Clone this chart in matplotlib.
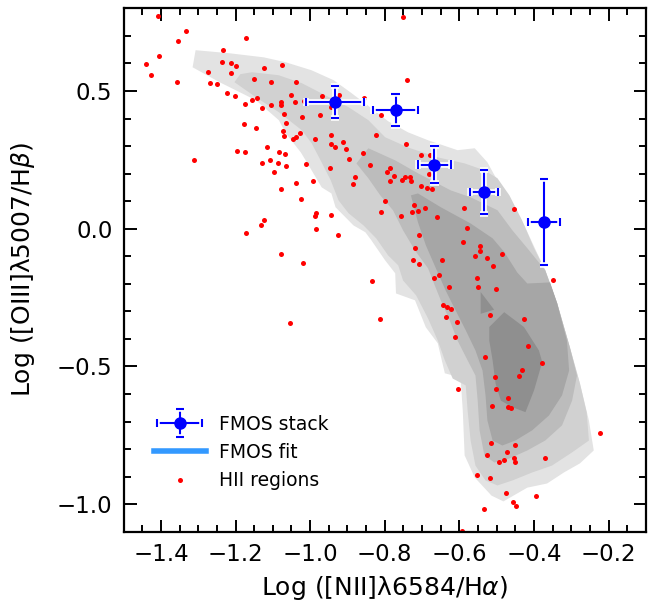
import matplotlib.pyplot as plt
import matplotlib.patheffects as pe
from matplotlib.container import ErrorbarContainer
from matplotlib.legend_handler import HandlerErrorbar

# FMOS stacked points
stack_x = [-0.933, -0.771, -0.667, -0.534, -0.374]
stack_y = [0.460, 0.430, 0.233, 0.133, 0.024]
stack_xerr = [0.078, 0.060, 0.045, 0.037, 0.043]
stack_yerr = [0.059, 0.059, 0.066, 0.080, 0.157]

# local HII regions
hii_x = [-1.408, -1.332, -1.355, -1.172, -1.405, -1.439, -1.427, -1.356, -1.234, -1.236,
         -1.213, -1.199, -1.273, -1.212, -1.123, -1.076, -1.150, -1.104, -1.037, -1.268,
         -1.249, -1.223, -1.201, -1.142, -1.155, -1.175, -1.051, -1.079, -1.077, -1.040,
         -1.106, -1.128, -0.967, -1.017, -0.945, -0.924, -0.856, -1.071, -1.023, -0.973,
         -1.064, -1.177, -1.146, -1.072, -1.070, -1.026, -1.039, -1.045, -0.988, -0.945,
         -0.945, -0.933, -0.912, -0.905, -0.823, -0.811, -0.859, -0.897, -0.840, -0.946,
         -1.011, -1.116, -1.083, -1.068, -1.197, -1.174, -1.311, -1.130, -1.108, -1.086,
         -1.066, -1.098, -1.038, -0.992, -0.879, -0.886, -1.078, -1.024, -0.793, -0.751,
         -0.740, -0.742, -0.704, -0.680, -0.681, -0.702, -0.687, -0.673, -0.786, -0.774,
         -0.745, -0.732, -0.729, -0.754, -0.786, -0.587, -0.454, -0.580, -0.661, -0.691,
         -0.723, -0.712, -0.726, -0.757, -0.708, -0.718, -0.590, -0.544,
         -0.799, -0.809, -0.984, -0.987, -0.943, -0.984, -0.926, -1.123, -1.132, -1.172,
         -1.078, -1.018, -0.833, -0.814, -1.054,
         -0.485, -0.546, -0.559, -0.525, -0.646, -0.725, -0.708, -0.510, -0.654, -0.669,
         -0.554, -0.349, -0.550, -0.502, -0.629, -0.643, -0.634, -0.623, -0.637, -0.518,
         -0.428, -0.607, -0.612, -0.415, -0.531, -0.379, -0.432, -0.440, -0.504, -0.501,
         -0.605, -0.471, -0.512, -0.469, -0.461, -0.223, -0.515, -0.452, -0.525, -0.472,
         -0.481, -0.454, -0.450, -0.494, -0.370, -0.552, -0.518, -0.476, -0.394, -0.456,
         -0.448, -0.535, -0.594, -0.491]
hii_y = [0.771, 0.718, 0.683, 0.693, 0.626, 0.598, 0.558, 0.534, 0.648, 0.604,
         0.603, 0.591, 0.569, 0.564, 0.582, 0.593, 0.543, 0.534, 0.532, 0.529,
         0.525, 0.492, 0.483, 0.475, 0.466, 0.453, 0.484, 0.459, 0.449, 0.461,
         0.448, 0.438, 0.482, 0.463, 0.440, 0.484, 0.476, 0.415, 0.407, 0.413,
         0.384, 0.380, 0.366, 0.355, 0.338, 0.346, 0.334, 0.327, 0.326, 0.340,
         0.306, 0.297, 0.316, 0.289, 0.340, 0.413, 0.273, 0.253, 0.233, 0.219,
         0.234, 0.297, 0.280, 0.270, 0.282, 0.278, 0.249, 0.240, 0.249, 0.237,
         0.226, 0.205, 0.166, 0.173, 0.189, 0.162, 0.145, 0.109, 0.206, 0.768,
         0.541, 0.307, 0.269, 0.269, 0.197, 0.156, 0.149, 0.145, 0.222, 0.193,
         0.188, 0.189, 0.172, 0.175, 0.173, 0.074, 0.071, 0.002, 0.041, 0.075,
         0.087, 0.063, 0.062, 0.045, -0.022, -0.070, -0.047, -0.062,
         0.102, 0.062, 0.058, 0.047, 0.048, -0.002, -0.022, 0.033, 0.012, -0.014,
         -0.092, -0.123, -0.190, -0.327, -0.341,
         -0.091, -0.082, -0.099, -0.105, -0.112, -0.112, -0.129, -0.137, -0.167, -0.179,
         -0.178, -0.185, -0.213, -0.220, -0.211, -0.277, -0.283, -0.293, -0.319, -0.314,
         -0.327, -0.340, -0.392, -0.425, -0.465, -0.487, -0.513, -0.533, -0.537, -0.581,
         -0.581, -0.614, -0.645, -0.646, -0.651, -0.741, -0.779, -0.784, -0.820, -0.812,
         -0.838, -0.834, -0.848, -0.848, -0.832, -0.893, -0.904, -0.959, -0.971, -0.991,
         -1.006, -1.018, -1.099, -1.103]

# SDSS density contours, outermost to innermost
c1_x = [-1.307, -1.217, -1.124, -1.065, -0.996, -0.937, -0.892, -0.850, -0.791, -0.738,
        -0.684, -0.605, -0.559, -0.525, -0.506, -0.477, -0.453, -0.426, -0.405, -0.370,
        -0.338, -0.304, -0.277, -0.253, -0.240, -0.277, -0.320, -0.365, -0.418, -0.482,
        -0.514, -0.559, -0.586, -0.591, -0.597, -0.639, -0.658, -0.690, -0.719, -0.770,
        -0.772, -0.799, -0.836, -0.852, -0.884, -0.905, -0.932, -0.943, -0.969, -1.004,
        -1.025, -1.065, -1.084, -1.145, -1.243, -1.315]
c1_y = [0.648, 0.637, 0.622, 0.604, 0.575, 0.539, 0.495, 0.452, 0.390, 0.350,
        0.321, 0.285, 0.292, 0.241, 0.194, 0.132, 0.078, 0.012, -0.050, -0.151,
        -0.271, -0.431, -0.562, -0.696, -0.805, -0.852, -0.885, -0.925, -0.940, -0.990,
        -0.969, -0.903, -0.823, -0.660, -0.540, -0.525, -0.416, -0.358, -0.260, -0.235,
        -0.162, -0.115, -0.042, -0.013, 0.012, 0.041, 0.078, 0.128, 0.150, 0.230,
        0.277, 0.346, 0.394, 0.466, 0.532, 0.586]
c2_x = [-1.203, -1.187, -1.156, -1.084, -1.022, -0.959, -0.897, -0.844, -0.799, -0.738,
        -0.658, -0.586, -0.533, -0.498, -0.466, -0.432, -0.400, -0.370, -0.338, -0.304,
        -0.277, -0.259, -0.253, -0.298, -0.352, -0.405, -0.458, -0.498, -0.530, -0.557,
        -0.570, -0.578, -0.583, -0.618, -0.639, -0.658, -0.684, -0.716, -0.751, -0.764,
        -0.791, -0.823, -0.857, -0.897, -0.924, -0.945, -0.972, -0.996, -1.022, -1.084,
        -1.145]
c2_y = [0.532, 0.561, 0.568, 0.557, 0.528, 0.484, 0.441, 0.394, 0.332, 0.295,
        0.259, 0.237, 0.212, 0.183, 0.121, 0.030, -0.071, -0.151, -0.271, -0.431,
        -0.562, -0.667, -0.769, -0.812, -0.860, -0.885, -0.914, -0.932, -0.914, -0.860,
        -0.769, -0.660, -0.569, -0.544, -0.478, -0.406, -0.326, -0.242, -0.188, -0.133,
        -0.097, -0.035, 0.012, 0.056, 0.103, 0.176, 0.248, 0.310, 0.357, 0.423,
        0.477]
c3_x = [-0.876, -0.844, -0.772, -0.711, -0.623, -0.570, -0.498, -0.458, -0.418, -0.370,
        -0.338, -0.304, -0.285, -0.298, -0.325, -0.370, -0.418, -0.466, -0.506, -0.533,
        -0.546, -0.551, -0.557, -0.578, -0.605, -0.626, -0.650, -0.666, -0.684, -0.719,
        -0.751, -0.778, -0.812, -0.844]
c3_y = [0.237, 0.292, 0.248, 0.201, 0.139, 0.114, 0.067, -0.006, -0.071, -0.151,
        -0.271, -0.431, -0.533, -0.624, -0.714, -0.769, -0.805, -0.834, -0.849, -0.823,
        -0.732, -0.624, -0.533, -0.478, -0.406, -0.333, -0.260, -0.206, -0.144, -0.079,
        -0.006, 0.067, 0.121, 0.183]
c4_x = [-0.730, -0.711, -0.650, -0.570, -0.511, -0.479, -0.445, -0.418, -0.357, -0.338,
        -0.312, -0.306, -0.325, -0.360, -0.405, -0.450, -0.485, -0.511, -0.525, -0.530,
        -0.538, -0.557, -0.583, -0.610, -0.637, -0.663, -0.690, -0.711]
c4_y = [0.121, 0.128, 0.078, 0.019, -0.035, -0.086, -0.159, -0.199, -0.195, -0.271,
        -0.406, -0.515, -0.605, -0.678, -0.732, -0.769, -0.787, -0.769, -0.696, -0.605,
        -0.515, -0.442, -0.369, -0.297, -0.224, -0.144, -0.060, 0.023]
c5_x = [-0.520, -0.480, -0.427, -0.387, -0.378, -0.400, -0.423, -0.458, -0.489, -0.503,
        -0.511, -0.520]
c5_y = [-0.357, -0.303, -0.357, -0.442, -0.484, -0.587, -0.666, -0.648, -0.624, -0.563,
        -0.478, -0.406]
c5b_x = [-0.543, -0.507, -0.543]
c5b_y = [-0.230, -0.294, -0.309]

contours = [(c1_x, c1_y), (c2_x, c2_y), (c3_x, c3_y), (c4_x, c4_y), (c5_x, c5_y), (c5b_x, c5b_y)]
greys = ['#e3e3e3', '#d1d1d1', '#bcbcbc', '#a6a6a6', '#8f8f8f', '#8f8f8f']

fig = plt.figure(figsize=(6.48, 6.12), dpi=100)
ax = fig.add_axes([0.1907, 0.1312, 0.8062, 0.8552])

for (cx, cy), col in zip(contours, greys):
    ax.fill(cx, cy, color=col, lw=0, zorder=1)

ax.plot(hii_x, hii_y, 'o', color='red', ms=3.6, mec='none', zorder=2, label='HII regions')

ax.plot([], [], color='#3399ff', lw=4, label='FMOS fit')

eb = ax.errorbar(stack_x, stack_y, xerr=stack_xerr, yerr=stack_yerr, fmt='o', color='blue',
                 ms=8, elinewidth=1.5, capsize=3, capthick=1.5, zorder=3, label='FMOS stack')
halo = [pe.Stroke(linewidth=4, foreground='white'), pe.Normal()]
for ln in eb.lines[1]:
    ln.set_path_effects(halo)
for lc in eb.lines[2]:
    lc.set_path_effects(halo)

ax.set_xlim(-1.5, -0.1)
ax.set_ylim(-1.1, 0.8)
ax.set_xticks([-1.4, -1.2, -1.0, -0.8, -0.6, -0.4, -0.2])
ax.set_xticklabels(['\u22121.4', '\u22121.2', '\u22121.0', '\u22120.8', '\u22120.6', '\u22120.4', '\u22120.2'])
ax.set_yticks([-1.0, -0.5, 0.0, 0.5])
ax.set_yticklabels(['\u22121.0', '\u22120.5', '0.0', '0.5'])
ax.set_xticks([i * 0.05 - 1.5 for i in range(29)], minor=True)
ax.set_yticks([i * 0.1 - 1.1 for i in range(20)], minor=True)
ax.tick_params(which='both', direction='in', top=True, right=True, width=1.4, labelsize=16.5)
ax.tick_params(which='major', length=9, pad=8)
ax.tick_params(which='minor', length=4.8)
for s in ax.spines.values():
    s.set_linewidth(1.6)

ax.set_xlabel('Log ([NII]\u03bb6584/H$\\alpha$)', fontsize=18, labelpad=6)
ax.set_ylabel('Log ([OIII]\u03bb5007/H$\\beta$)', fontsize=18, labelpad=14)

handles, labels = ax.get_legend_handles_labels()
order = [labels.index(l) for l in ['FMOS stack', 'FMOS fit', 'HII regions']]
ax.legend([handles[i] for i in order], [labels[i] for i in order],
          loc='upper left', bbox_to_anchor=(0.025, 0.256), frameon=False, fontsize=13.5,
          handlelength=2.8, handletextpad=0.7, labelspacing=0.5,
          handler_map={ErrorbarContainer: HandlerErrorbar(xerr_size=1.2, yerr_size=0.75)})

fig.savefig('out.png', dpi=100)
